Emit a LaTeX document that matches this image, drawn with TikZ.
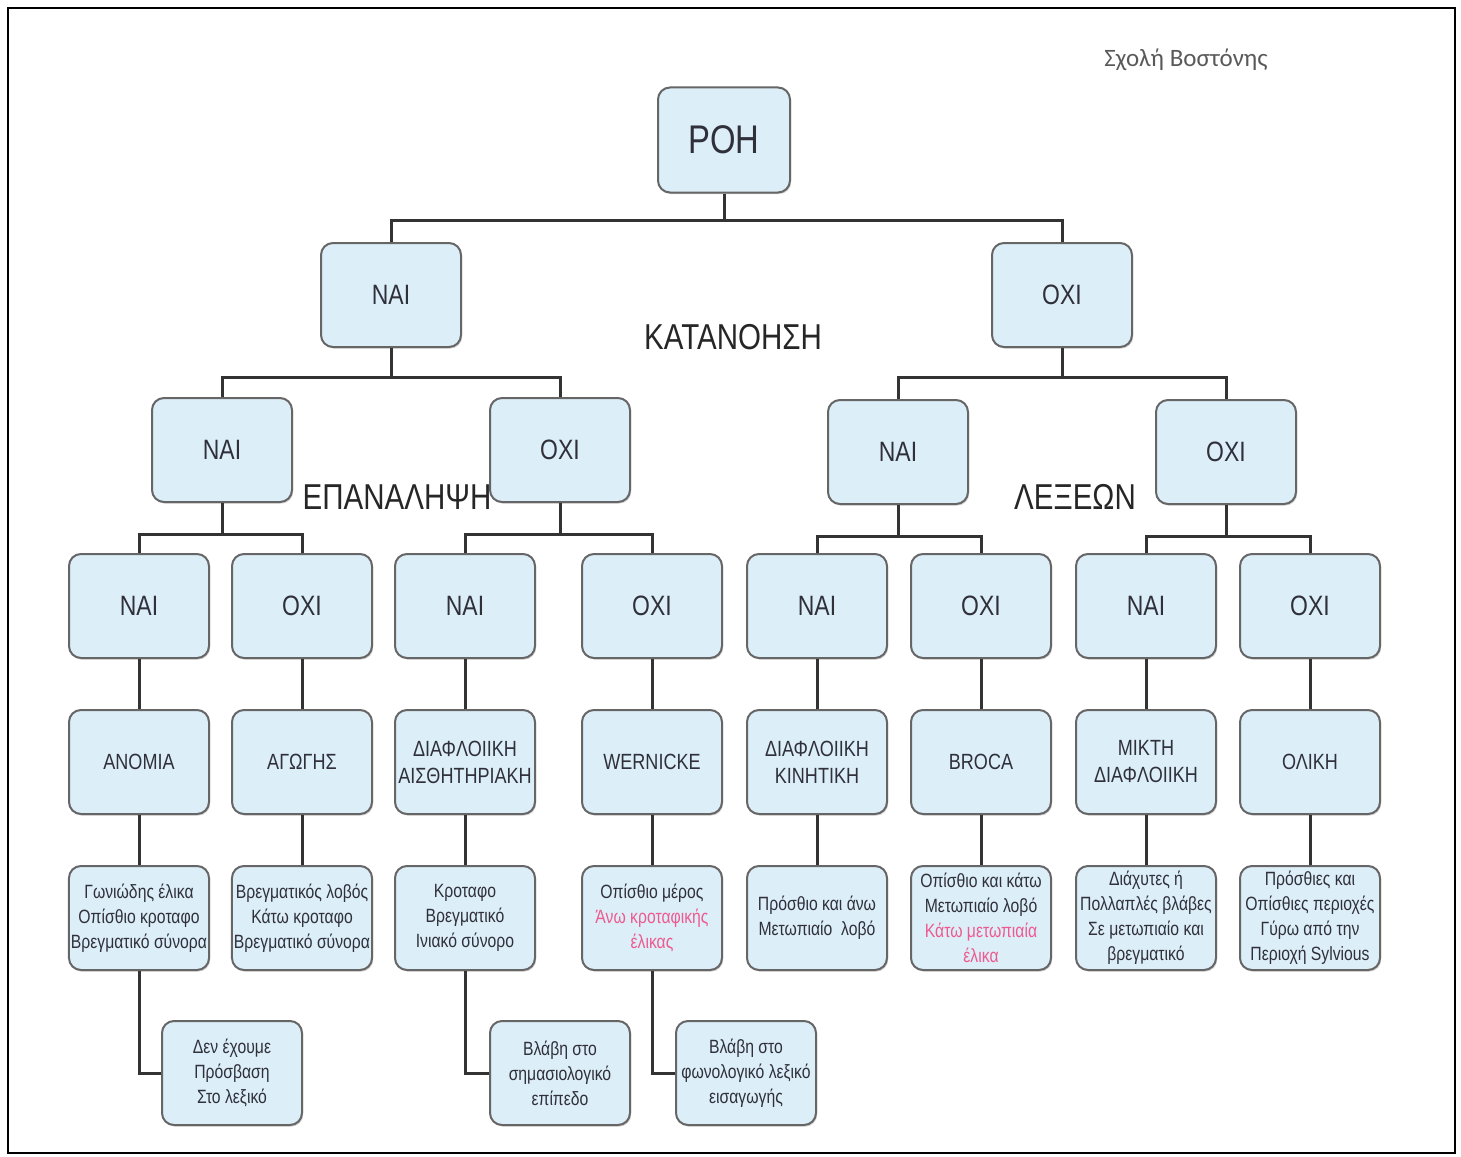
\documentclass[tikz,border=0pt]{standalone}
\usepackage{fontspec}
\setmainfont{Liberation Sans}[FakeStretch=0.82]
\newfontfamily\schoolfont{Carlito}
\usetikzlibrary{shadows}
\definecolor{boxfill}{HTML}{DCEEF8}
\definecolor{boxline}{HTML}{666666}
\definecolor{txt}{HTML}{30303A}
\definecolor{conncol}{HTML}{333333}
\definecolor{pinktxt}{HTML}{EE5A8F}
\tikzset{
  box/.style={draw=boxline, line width=1pt, fill=boxfill, rounded corners=6pt,
    minimum width=70pt, minimum height=52pt, inner sep=1pt, align=center,
    text=txt, drop shadow={shadow xshift=0.6pt, shadow yshift=-0.8pt, fill=black!35}},
  bigt/.style={font=\fontsize{20}{24}\selectfont},
  midt/.style={font=\fontsize{14}{17}\selectfont},
  catt/.style={font=\fontsize{11}{13.5}\selectfont},
  smallt/.style={font=\fontsize{9.6}{12.5}\selectfont},
  head/.style={text=black!85, font=\fontsize{18}{22}\selectfont},
  conn/.style={draw=conncol, line width=1.5pt}
}
\begin{document}
\begin{tikzpicture}[x=0.5pt,y=-0.5pt]
\useasboundingbox (0,0) rectangle (1461,1156);
\draw[line width=1pt, black] (8,8) rectangle (1455,1153);
\node[text=black!65, font=\schoolfont\fontsize{12.5}{15}\selectfont] (school) at (1186,60) {Σχολή Βοστόνης};

% root
\node[box, bigt, minimum width=66pt, minimum height=52.5pt] (root) at (724,140) {ΡΟΗ};
% level 1
\node[box, midt] (a1) at (391,295) {ΝΑΙ};
\node[box, midt] (a2) at (1062,295) {ΟΧΙ};
% level 2
\node[box, midt] (b1) at (222,450) {ΝΑΙ};
\node[box, midt] (b2) at (560,450) {ΟΧΙ};
\node[box, midt] (b3) at (898,452) {ΝΑΙ};
\node[box, midt] (b4) at (1226,452) {ΟΧΙ};
% level 3
\node[box, midt] (c1) at (139,606) {ΝΑΙ};
\node[box, midt] (c2) at (302,606) {ΟΧΙ};
\node[box, midt] (c3) at (465,606) {ΝΑΙ};
\node[box, midt] (c4) at (652,606) {ΟΧΙ};
\node[box, midt] (c5) at (817,606) {ΝΑΙ};
\node[box, midt] (c6) at (981,606) {ΟΧΙ};
\node[box, midt] (c7) at (1146,606) {ΝΑΙ};
\node[box, midt] (c8) at (1310,606) {ΟΧΙ};
% level 4
\node[box, catt] (d1) at (139,762) {ΑΝΟΜΙΑ};
\node[box, catt] (d2) at (302,762) {ΑΓΩΓΗΣ};
\node[box, catt] (d3) at (465,762) {ΔΙΑΦΛΟΙΙΚΗ\\ΑΙΣΘΗΤΗΡΙΑΚΗ};
\node[box, catt] (d4) at (652,762) {WERNICKE};
\node[box, catt] (d5) at (817,762) {ΔΙΑΦΛΟΙΙΚΗ\\ΚΙΝΗΤΙΚΗ};
\node[box, catt] (d6) at (981,762) {BROCA};
\node[box, catt] (d7) at (1146,762) {ΜΙΚΤΗ\\ΔΙΑΦΛΟΙΙΚΗ};
\node[box, catt] (d8) at (1310,762) {ΟΛΙΚΗ};
% level 5
\node[box, smallt] (e1) at (139,918) {Γωνιώδης έλικα\\Οπίσθιο κροταφο\\Βρεγματικό σύνορα};
\node[box, smallt] (e2) at (302,918) {Βρεγματικός λοβός\\Κάτω κροταφο\\Βρεγματικό σύνορα};
\node[box, smallt] (e3) at (465,918) {Κροταφο\\Βρεγματικό\\Ινιακό σύνορο};
\node[box, smallt] (e4) at (652,918) {Οπίσθιο μέρος\\\textcolor{pinktxt}{Άνω κροταφικής}\\\textcolor{pinktxt}{έλικας}};
\node[box, smallt] (e5) at (817,918) {Πρόσθιο και άνω\\Μετωπιαίο\ \ λοβό};
\node[box, smallt] (e6) at (981,918) {Οπίσθιο και κάτω\\Μετωπιαίο λοβό\\\textcolor{pinktxt}{Κάτω μετωπιαία}\\\textcolor{pinktxt}{έλικα}};
\node[box, smallt] (e7) at (1146,918) {Διάχυτες ή\\Πολλαπλές βλάβες\\Σε μετωπιαίο και\\βρεγματικό};
\node[box, smallt] (e8) at (1310,918) {Πρόσθιες και\\Οπίσθιες περιοχές\\Γύρω από την\\Περιοχή Sylvious};
% level 6
\node[box, smallt] (f1) at (232,1073) {Δεν έχουμε\\Πρόσβαση\\Στο λεξικό};
\node[box, smallt] (f2) at (560,1073) {Βλάβη στο\\σημασιολογικό\\επίπεδο};
\node[box, smallt] (f3) at (746,1073) {Βλάβη στο\\φωνολογικό λεξικό\\εισαγωγής};

% headings
\node[head] (h1) at (733,337) {ΚΑΤΑΝΟΗΣΗ};
\node[head] (h2) at (397,497) {ΕΠΑΝΑΛΗΨΗ};
\node[head] (h3) at (1075,497) {ΛΕΞΕΩΝ};

% connectors
\draw[conn] (root.south) -- ++(0,27) -| (a1.north);
\draw[conn] (root.south) -- ++(0,27) -| (a2.north);
\draw[conn] (a1.south) -- ++(0,29) -| (b1.north);
\draw[conn] (a1.south) -- ++(0,29) -| (b2.north);
\draw[conn] (a2.south) -- ++(0,29) -| (b3.north);
\draw[conn] (a2.south) -- ++(0,29) -| (b4.north);
\draw[conn] (b1.south) -- ++(0,31) -| (c1.north);
\draw[conn] (b1.south) -- ++(0,31) -| (c2.north);
\draw[conn] (b2.south) -- ++(0,31) -| (c3.north);
\draw[conn] (b2.south) -- ++(0,31) -| (c4.north);
\draw[conn] (b3.south) -- ++(0,31) -| (c5.north);
\draw[conn] (b3.south) -- ++(0,31) -| (c6.north);
\draw[conn] (b4.south) -- ++(0,31) -| (c7.north);
\draw[conn] (b4.south) -- ++(0,31) -| (c8.north);
\foreach \i in {1,...,8}{
  \draw[conn] (c\i.south) -- (d\i.north);
  \draw[conn] (d\i.south) -- (e\i.north);
}
\draw[conn] (e1.south) |- (f1.west);
\draw[conn] (e3.south) |- (f2.west);
\draw[conn] (e4.south) |- (f3.west);
\end{tikzpicture}
\end{document}
